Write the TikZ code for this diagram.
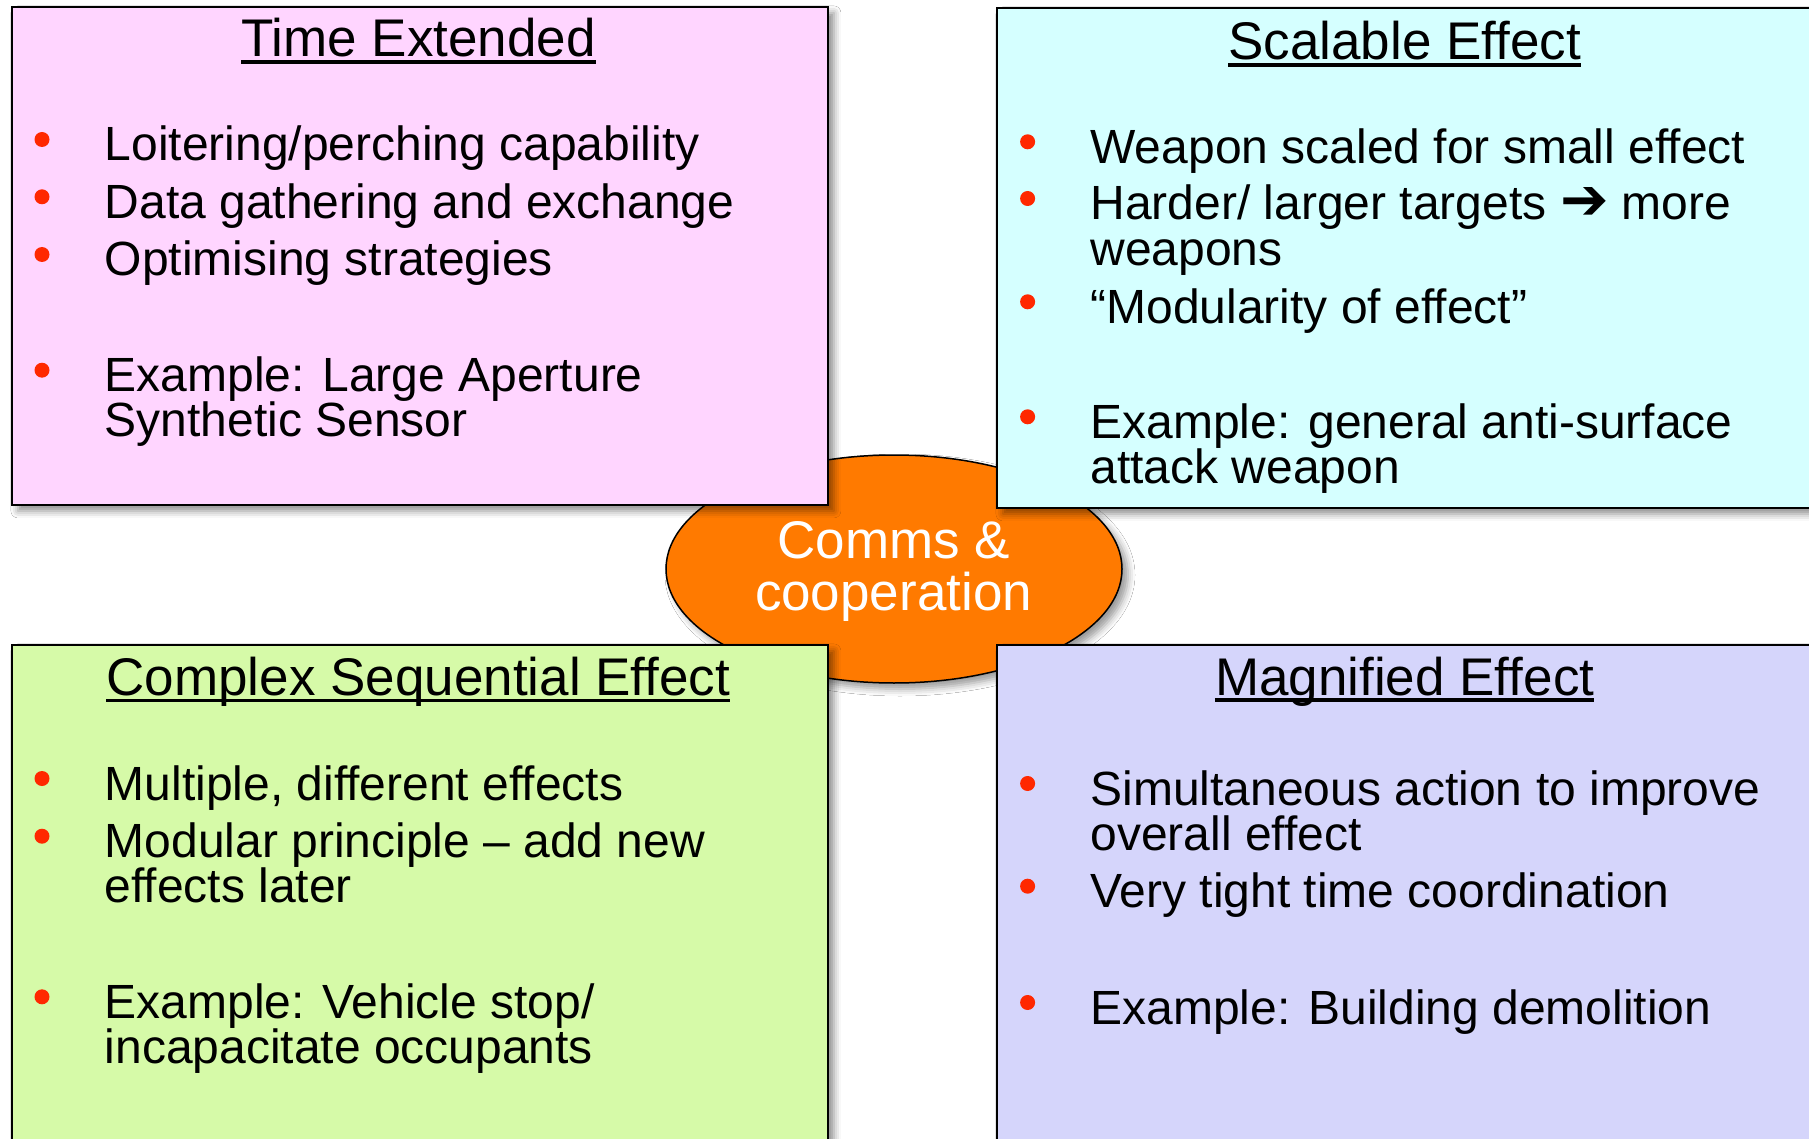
\documentclass[tikz,border=0pt]{standalone}
\usepackage{fontspec}
\setmainfont{Liberation Sans}
\newfontfamily\arrowfont{DejaVu Sans}
\usetikzlibrary{shapes.geometric,shadows.blur}
\definecolor{pinkbox}{RGB}{255,213,255}
\definecolor{cyanbox}{RGB}{213,255,255}
\definecolor{greenbox}{RGB}{214,250,168}
\definecolor{lavbox}{RGB}{213,213,251}
\definecolor{hubfill}{RGB}{255,122,0}
\definecolor{bulletred}{RGB}{255,40,0}
\tikzset{
  quad/.style={draw=black, line width=1.8pt, anchor=north west, inner sep=0pt,
    minimum width=816pt, minimum height=498pt,
    blur shadow={shadow xshift=6pt, shadow yshift=-6pt, shadow blur radius=7pt, shadow opacity=45}},
  txt/.style={anchor=base west, inner sep=0pt, font=\fontsize{48}{48}\selectfont},
  ttl/.style={anchor=base, inner sep=0pt, font=\fontsize{53}{53}\selectfont},
  hubtxt/.style={anchor=base, inner sep=0pt, text=white, font=\fontsize{53}{53}\selectfont},
  dot/.style={circle, fill=bulletred, minimum size=15pt, inner sep=0pt},
  uline/.style={line width=3.5pt}
}
\begin{document}
\begin{tikzpicture}[x=1pt,y=-1pt]
\useasboundingbox[fill=white] (0,0) rectangle (1809,1139);

% central ellipse
\node[ellipse, draw=black, line width=1.5pt, fill=hubfill, minimum width=456pt, minimum height=228pt,
  blur shadow={shadow xshift=6pt, shadow yshift=-6pt, shadow blur radius=7pt, shadow opacity=40}] (hub) at (894,569) {};

% boxes
\node[quad, fill=pinkbox] (tl) at (11,6) {};
\node[quad, fill=cyanbox, minimum width=817pt, minimum height=500pt] (tr) at (996,7) {};
\node[quad, fill=greenbox, minimum height=510pt] (bl) at (11,644) {};
\node[quad, fill=lavbox, minimum width=817pt, minimum height=510pt] (br) at (996,644) {};

% hub text
\node[hubtxt] (h1) at (894,558) {Comms \&};
\node[hubtxt] (h2) at (893.5,610) {cooperation};

% ---- Time Extended
\node[ttl] (t1) at (418.5,57) {Time Extended};
\draw[uline] ([yshift=-5pt]t1.base west) -- ([yshift=-5pt]t1.base east);
\node[dot] (tlb1) at (42,139.5) {};
\node[txt] (tla) at (104.5,161) {Loitering/perching capability};
\node[dot] (tlb2) at (42,196.8) {};
\node[txt] (tlb) at (104.5,218.3) {Data gathering and exchange};
\node[dot] (tlb3) at (42,254.5) {};
\node[txt] (tlc) at (104.5,276) {Optimising strategies};
\node[dot] (tlb4) at (42,370.2) {};
\node[txt] (tld) at (104.5,391.7) {Example: Large Aperture};
\node[txt] (tle) at (104.5,436.7) {Synthetic Sensor};

% ---- Scalable Effect
\node[ttl] (t2) at (1404.7,60) {Scalable Effect};
\draw[uline] ([yshift=-5pt]t2.base west) -- ([yshift=-5pt]t2.base east);
\node[dot] (trb1) at (1027.6,141.8) {};
\node[txt] (tra) at (1090.3,163.3) {Weapon scaled for small effect};
\node[dot] (trb2) at (1027.6,198.5) {};
\node[txt] (trb) at (1090.3,220) {Harder/ larger targets {\arrowfont\bfseries\fontsize{58}{58}\selectfont ➔} more};
\node[txt] (trc) at (1090.3,265.7) {weapons};
\node[dot] (trb3) at (1027.6,301.8) {};
\node[txt] (trd) at (1090.3,323.3) {“Modularity of effect”};
\node[dot] (trb4) at (1027.6,416.8) {};
\node[txt] (tre) at (1090.3,438.3) {Example: general anti-surface};
\node[txt] (trf) at (1090.3,483.3) {attack weapon};

% ---- Complex Sequential Effect
\node[ttl] (t3) at (418.4,695.7) {Complex Sequential Effect};
\draw[uline] ([yshift=-5pt]t3.base west) -- ([yshift=-5pt]t3.base east);
\node[dot] (blb1) at (42,778.5) {};
\node[txt] (bla) at (104.5,800) {Multiple, different effects};
\node[dot] (blb2) at (42,836.2) {};
\node[txt] (blb) at (104.5,857.7) {Modular principle – add new};
\node[txt] (blc) at (104.5,902.7) {effects later};
\node[dot] (blb3) at (42,996.8) {};
\node[txt] (bld) at (104.5,1018.3) {Example: Vehicle stop/};
\node[txt] (ble) at (104.5,1063.3) {incapacitate occupants};

% ---- Magnified Effect
\node[ttl] (t4) at (1404.7,695) {Magnified Effect};
\draw[uline] ([yshift=-5pt]t4.base west) -- ([yshift=-5pt]t4.base east);
\node[dot] (brb1) at (1027.6,783.5) {};
\node[txt] (bra) at (1090.3,805) {Simultaneous action to improve};
\node[txt] (brb) at (1090.3,850.7) {overall effect};
\node[dot] (brb2) at (1027.6,886.2) {};
\node[txt] (brc) at (1090.3,907.7) {Very tight time coordination};
\node[dot] (brb3) at (1027.6,1002.5) {};
\node[txt] (brd) at (1090.3,1024) {Example: Building demolition};
\end{tikzpicture}
\end{document}
